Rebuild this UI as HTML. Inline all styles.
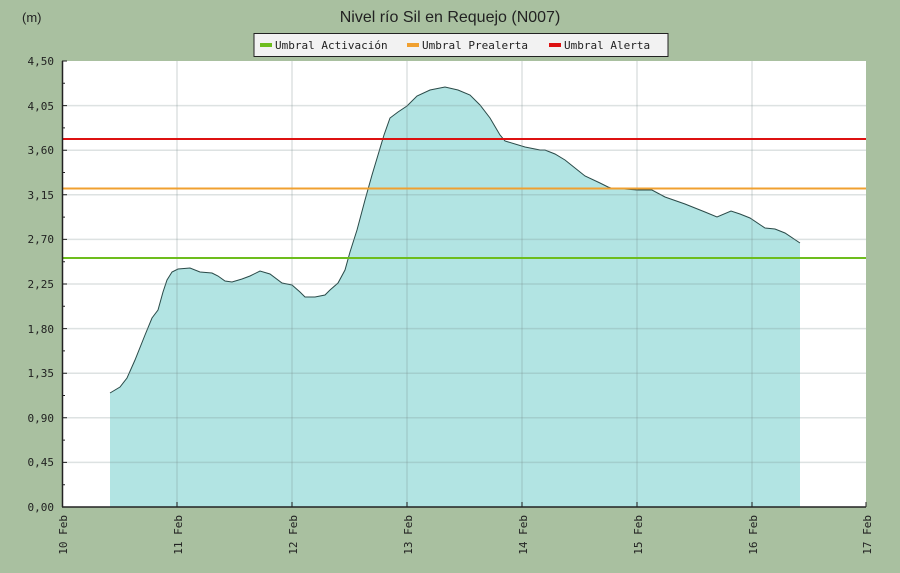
<!DOCTYPE html><html><head><meta charset="utf-8"><style>body{margin:0;background:#a9c0a0}svg{display:block}text{font-family:"DejaVu Sans Mono","Liberation Mono",monospace;font-size:11px;fill:#222}</style></head><body>
<svg width="900" height="573" viewBox="0 0 900 573">
<rect width="900" height="573" fill="#a9c0a0"/>
<rect x="62" y="61" width="804" height="446" fill="#fff"/>
<polygon fill="#b2e4e3" points="110,507 110,393 120,387 127,378 135,360 145,335 152,318 158,310 163,292 167,280 172,272 178,269 190,268 200,272 212,273 218,276 225,281 232,282 242,279 250,276 260,271 270,274 282,283 292,285 300,292 305,297 315,297 325,295 330,290 338,283 345,270 350,252 357,230 365,200 372,175 378,155 384,135 390,118 398,112 407,106 417,96 430,90 445,87 458,90 470,95 480,105 490,118 500,135 505,141 525,147 540,150 545,150 555,154 565,160 575,168 585,176 600,183 608,187 611,188 637,190 652,190 665,197 685,204 705,212 717,217 731,211 740,214 750,218 765,228 775,229 785,233 800,243 800,507"/>
<polyline fill="none" stroke="#2a4a48" stroke-width="1" points="110,393 120,387 127,378 135,360 145,335 152,318 158,310 163,292 167,280 172,272 178,269 190,268 200,272 212,273 218,276 225,281 232,282 242,279 250,276 260,271 270,274 282,283 292,285 300,292 305,297 315,297 325,295 330,290 338,283 345,270 350,252 357,230 365,200 372,175 378,155 384,135 390,118 398,112 407,106 417,96 430,90 445,87 458,90 470,95 480,105 490,118 500,135 505,141 525,147 540,150 545,150 555,154 565,160 575,168 585,176 600,183 608,187 611,188 637,190 652,190 665,197 685,204 705,212 717,217 731,211 740,214 750,218 765,228 775,229 785,233 800,243"/>
<g stroke="rgba(120,140,140,0.25)" stroke-width="1.5">
<line x1="177" y1="61" x2="177" y2="507"/><line x1="292" y1="61" x2="292" y2="507"/><line x1="407" y1="61" x2="407" y2="507"/><line x1="522" y1="61" x2="522" y2="507"/><line x1="637" y1="61" x2="637" y2="507"/><line x1="752" y1="61" x2="752" y2="507"/>
<line x1="62" y1="105.6" x2="866" y2="105.6"/><line x1="62" y1="150.2" x2="866" y2="150.2"/><line x1="62" y1="194.8" x2="866" y2="194.8"/><line x1="62" y1="239.4" x2="866" y2="239.4"/><line x1="62" y1="284" x2="866" y2="284"/><line x1="62" y1="328.6" x2="866" y2="328.6"/><line x1="62" y1="373.2" x2="866" y2="373.2"/><line x1="62" y1="417.8" x2="866" y2="417.8"/><line x1="62" y1="462.4" x2="866" y2="462.4"/>
</g>
<line x1="62" y1="258" x2="866" y2="258" stroke="#6dbd1d" stroke-width="2"/>
<line x1="62" y1="188.5" x2="866" y2="188.5" stroke="#f0a030" stroke-width="2"/>
<line x1="62" y1="139" x2="866" y2="139" stroke="#dd1111" stroke-width="2"/>
<g stroke="#222" stroke-width="1.5">
<line x1="62.5" y1="61" x2="62.5" y2="507"/><line x1="62" y1="507" x2="866" y2="507"/>
</g>
<g stroke="#222" stroke-width="1">
<path d="M62 61h5M62 83.3h3M62 105.6h5M62 127.9h3M62 150.2h5M62 172.5h3M62 194.8h5M62 217.1h3M62 239.4h5M62 261.7h3M62 284h5M62 306.3h3M62 328.6h5M62 350.9h3M62 373.2h5M62 395.5h3M62 417.8h5M62 440.1h3M62 462.4h5M62 484.7h3"/>
<path d="M177 507v-5M292 507v-5M407 507v-5M522 507v-5M637 507v-5M752 507v-5M866 507v-5"/>
</g>
<g text-anchor="end" style="font-size:12px">
<text x="54" y="65">4,50</text><text x="54" y="110">4,05</text><text x="54" y="154">3,60</text><text x="54" y="199">3,15</text><text x="54" y="243">2,70</text><text x="54" y="288">2,25</text><text x="54" y="333">1,80</text><text x="54" y="377">1,35</text><text x="54" y="422">0,90</text><text x="54" y="466">0,45</text><text x="54" y="511">0,00</text>
</g>
<g text-anchor="end" style="font-size:12px">
<text transform="translate(67,515) rotate(-90)">10 Feb</text><text transform="translate(182,515) rotate(-90)">11 Feb</text><text transform="translate(297,515) rotate(-90)">12 Feb</text><text transform="translate(412,515) rotate(-90)">13 Feb</text><text transform="translate(527,515) rotate(-90)">14 Feb</text><text transform="translate(642,515) rotate(-90)">15 Feb</text><text transform="translate(757,515) rotate(-90)">16 Feb</text><text transform="translate(871,515) rotate(-90)">17 Feb</text>
</g>
<text x="22" y="22" style="font-family:'Liberation Sans',sans-serif;font-size:13px">(m)</text>
<text x="450" y="22" text-anchor="middle" style="font-family:'Liberation Sans',sans-serif;font-size:16px">Nivel río Sil en Requejo  (N007)</text>
<rect x="254" y="33.5" width="414" height="23" fill="#f2f2f2" stroke="#222" stroke-width="1"/>
<rect x="260" y="43" width="12" height="4" fill="#6dbd1d"/><text x="275" y="49">Umbral Activación</text>
<rect x="407" y="43" width="12" height="4" fill="#f0a030"/><text x="422" y="49">Umbral Prealerta</text>
<rect x="549" y="43" width="12" height="4" fill="#dd1111"/><text x="564" y="49">Umbral Alerta</text>
</svg></body></html>
